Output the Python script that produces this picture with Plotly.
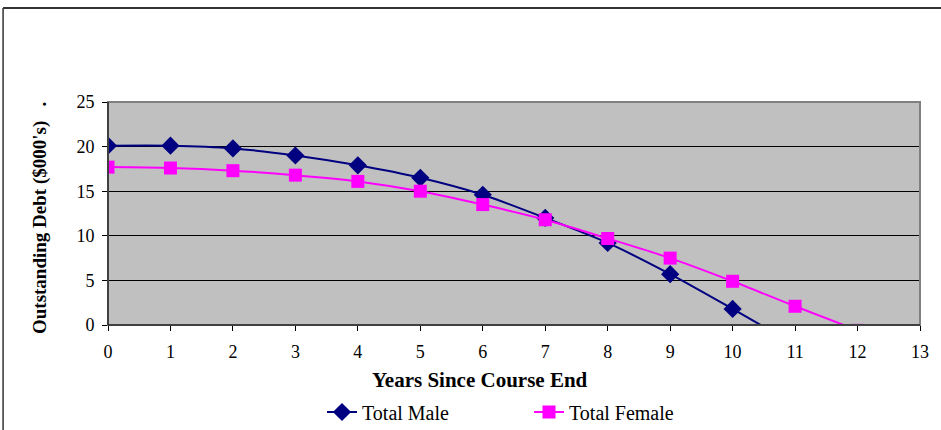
import plotly.graph_objects as go

years = [0, 1, 2, 3, 4, 5, 6, 7, 8, 9, 10, 11, 12]
male = [20.1, 20.1, 19.8, 19.0, 17.9, 16.5, 14.6, 12.0, 9.2, 5.7, 1.8, -2.2, None]
female = [17.7, 17.6, 17.3, 16.8, 16.1, 15.0, 13.5, 11.8, 9.7, 7.5, 4.9, 2.1, -0.6]
x_ticks = list(range(0, 14))
y_ticks = [0, 5, 10, 15, 20, 25]

FONT = "Liberation Serif, Times New Roman, serif"

fig = go.Figure()
fig.add_trace(go.Scatter(
    x=years, y=male, name="Total Male", mode="lines+markers",
    line=dict(color="#000080", width=2, shape="spline", smoothing=0.8),
    marker=dict(symbol="diamond", size=14, color="#000080"),
))
fig.add_trace(go.Scatter(
    x=years, y=female, name="Total Female", mode="lines+markers",
    line=dict(color="#FF00FF", width=2, shape="spline", smoothing=0.8),
    marker=dict(symbol="square", size=13, color="#FF00FF"),
))

L, R, T, B = 108, 20.5, 102, 105
W, H = 941, 430
pw = W - L - R
ph = H - T - B

def px_x(p):
    return (p - L) / pw

def px_y(p):
    return (H - B - p) / ph

fig.update_layout(
    width=W, height=H,
    margin=dict(l=L, r=R, t=T, b=B, autoexpand=False),
    paper_bgcolor="white",
    plot_bgcolor="#C0C0C0",
    font=dict(family=FONT, size=18, color="black"),
    showlegend=True,
    legend=dict(orientation="h", x=322 / W, xanchor="left", xref="container",
                y=1 - 412 / H, yanchor="middle", yref="container",
                font=dict(family=FONT, size=20), bgcolor="rgba(0,0,0,0)",
                entrywidth=162, entrywidthmode="pixels", tracegroupgap=0),
    xaxis=dict(range=[0, 13], tickvals=x_ticks, showgrid=False, zeroline=False,
               showline=True, linecolor="black", linewidth=1, automargin=False,
               ticks="outside", ticklen=5, tickcolor="black", ticklabelstandoff=5,
               tickfont=dict(family=FONT, size=18)),
    yaxis=dict(range=[0, 25], tickvals=y_ticks, showgrid=True, gridcolor="black", gridwidth=1,
               zeroline=False, showline=True, linecolor="black", linewidth=1, automargin=False,
               ticks="outside", ticklen=5, tickcolor="black", ticklabelstandoff=4,
               tickfont=dict(family=FONT, size=18)),
    shapes=[
        dict(type="rect", xref="paper", yref="paper", x0=0, x1=1, y0=0, y1=1,
             line=dict(color="#808080", width=2), layer="above"),
        dict(type="line", xref="paper", yref="paper", x0=0, x1=0, y0=0, y1=1,
             line=dict(color="black", width=1), layer="above"),
        dict(type="line", xref="paper", yref="paper", x0=0, x1=1, y0=0, y1=0,
             line=dict(color="black", width=1), layer="above"),
        dict(type="line", xref="paper", yref="paper", x0=px_x(3), x1=px_x(945), y0=px_y(8), y1=px_y(8),
             line=dict(color="#333333", width=2)),
        dict(type="line", xref="paper", yref="paper", x0=px_x(3), x1=px_x(3), y0=px_y(8), y1=px_y(435),
             line=dict(color="#333333", width=1.5)),
    ],
    annotations=[
        dict(text="<b>Years Since Course End</b>", xref="paper", yref="paper",
             x=px_x(480), y=px_y(380), showarrow=False, xanchor="center", yanchor="middle",
             font=dict(family=FONT, size=21)),
        dict(text="<b>Outstanding Debt ($000's)   .</b>", xref="paper", yref="paper",
             x=px_x(40), y=px_y(218), showarrow=False, xanchor="center", yanchor="middle",
             textangle=-90, font=dict(family=FONT, size=19)),
    ],
)

fig.write_html("out.html")
